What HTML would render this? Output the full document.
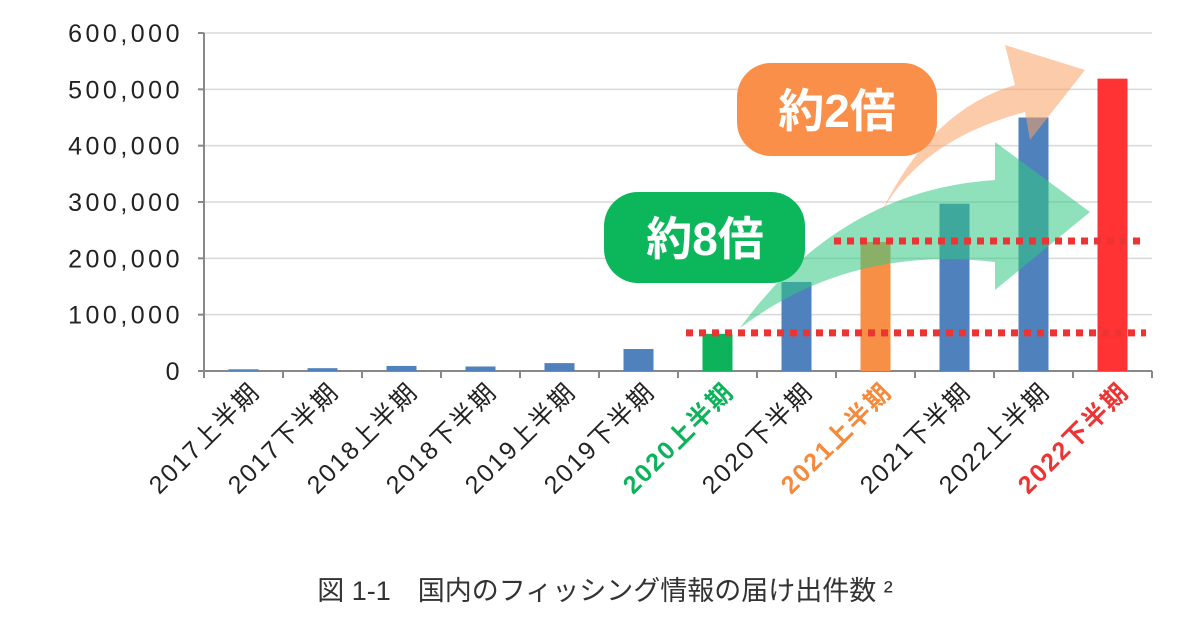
<!DOCTYPE html>
<html><head><meta charset="utf-8"><style>
body{margin:0;background:#fff;width:1200px;height:630px;overflow:hidden;font-family:"Liberation Sans","Noto Sans CJK JP",sans-serif}
</style></head><body>
<svg id="chart" width="1200" height="630" xmlns="http://www.w3.org/2000/svg" font-family="Liberation Sans, Noto Sans CJK JP, sans-serif"></svg>
<script>
const categories=["2017上半期","2017下半期","2018上半期","2018下半期","2019上半期","2019下半期","2020上半期","2020下半期","2021上半期","2021下半期","2022上半期","2022下半期"];
const values=[3000,5000,9000,8000,14000,39000,66000,158000,229000,297000,450000,519000];
const barColors=["#4f81bd","#4f81bd","#4f81bd","#4f81bd","#4f81bd","#4f81bd","#0db35b","#4f81bd","#f79046","#4f81bd","#4f81bd","#ff3333"];
const labelColors=["#222","#222","#222","#222","#222","#222","#0db35b","#222","#f58a3c","#222","#222","#ee3333"];
const yTicks=[0,100000,200000,300000,400000,500000,600000];
const refLines=[66000,229000];
const NS="http://www.w3.org/2000/svg";
const svg=document.getElementById('chart');
const x0=204,step=79,y0=371,yTop=33,yMax=600000;
const ys=v=>y0-(v/yMax)*(y0-yTop);
const xc=i=>x0+step*(i+0.5);
function mk(t,a){const e=document.createElementNS(NS,t);for(const k in a)e.setAttribute(k,a[k]);svg.appendChild(e);return e;}
yTicks.forEach(t=>{
  const g=mk('line',{x1:x0,x2:x0+step*12,y1:ys(t),y2:ys(t),stroke:t===0?'#888':'#d9d9d9','stroke-width':t===0?2:1.5});
  
  
  mk('line',{x1:x0-6,x2:x0,y1:ys(t),y2:ys(t),stroke:'#888','stroke-width':2});
  const l=mk('text',{x:x0-21,y:ys(t)+9,'text-anchor':'end','font-size':25,'letter-spacing':3.5,fill:'#222'});
  l.textContent=t.toLocaleString('en-US');
  
  
});
mk('line',{x1:x0,x2:x0,y1:yTop,y2:y0+6,stroke:'#888','stroke-width':2});
for(let i=0;i<=12;i++)mk('line',{x1:x0+step*i,x2:x0+step*i,y1:y0,y2:y0+7,stroke:'#888','stroke-width':2});
categories.forEach((c,i)=>{
  const b=mk('rect',{x:xc(i)-15,y:ys(values[i]),width:30,height:y0-ys(values[i]),fill:barColors[i]});
  
  
  const t=mk('text',{x:0,y:0,'text-anchor':'end','font-size':25,'letter-spacing':2,fill:labelColors[i],'font-weight':labelColors[i]==='#222'?'normal':'bold',transform:`translate(${xc(i)+18},${y0+22}) rotate(-45)`});
  t.textContent=c;
  
  
});
const ga=mk('path',{d:'M740,328 Q840,190 995,180 L995,142 L1090,212 L995,290 L995,262 Q850,245 740,328 Z',fill:'rgba(50,200,130,0.55)'});


const oa=mk('path',{d:'M880,215 Q930,110 1015,85 L1005,45 L1085,70 L1030,140 L1025,112 Q920,140 880,215 Z',fill:'rgba(250,160,100,0.55)'});


refLines.forEach((v,k)=>{
  const r=mk('line',{x1:k===0?686:834,x2:1146,y1:ys(v)-1,y2:ys(v)-1,stroke:'#ee3333','stroke-width':7,'stroke-dasharray':'7 6'});
  
  
});
const gp=mk('rect',{x:604,y:192,width:201,height:91,rx:34,fill:'#0cb75c'});


const gt=mk('text',{x:705,y:255,'text-anchor':'middle','font-size':46,'font-weight':'bold',fill:'#fff'});gt.textContent='約8倍';
const op=mk('rect',{x:737,y:63,width:200,height:93,rx:34,fill:'#f98f48'});


const ot=mk('text',{x:837,y:127,'text-anchor':'middle','font-size':46,'font-weight':'bold',fill:'#fff'});ot.textContent='約2倍';
const cap=mk('text',{x:605,y:600,'text-anchor':'middle','font-size':27,fill:'#333'});
cap.textContent='図 1-1　国内のフィッシング情報の届け出件数 ²';


</script>
</body></html>
